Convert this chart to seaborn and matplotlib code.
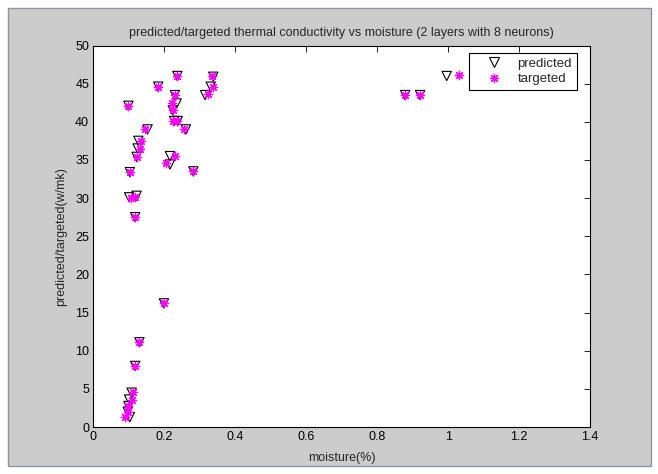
import matplotlib
matplotlib.use("Agg")
import matplotlib.pyplot as plt
import matplotlib.patches as mpatches
from matplotlib.lines import Line2D
import seaborn as sns
import pandas as pd

# moisture (%) and thermal conductivity for each sample
pred_moisture = [0.099, 0.183, 0.237, 0.338, 0.331, 0.315, 0.230, 0.235, 0.224,
                 0.228, 0.238, 0.261, 0.153, 0.127, 0.125, 0.122, 0.216, 0.216,
                 0.282, 0.103, 0.101, 0.122, 0.118, 0.199, 0.130, 0.118, 0.108,
                 0.101, 0.099, 0.097, 0.103, 0.996, 0.879, 0.921]
pred_conductivity = [42.1, 44.6, 46.0, 45.9, 44.6, 43.5, 43.5, 42.4, 41.5,
                     40.1, 40.1, 39.0, 39.0, 37.5, 36.5, 35.4, 35.5, 34.4,
                     33.5, 33.4, 30.1, 30.3, 27.5, 16.2, 11.1, 8.0, 4.5,
                     3.6, 2.75, 2.0, 1.3, 46.0, 43.5, 43.5]

targ_moisture = [0.099, 0.183, 0.237, 0.334, 0.338, 0.324, 0.230, 0.221, 0.224,
                 0.226, 0.237, 0.257, 0.146, 0.134, 0.132, 0.122, 0.230, 0.205,
                 0.282, 0.103, 0.106, 0.118, 0.118, 0.199, 0.130, 0.118, 0.111,
                 0.108, 0.099, 0.097, 0.089, 1.031, 0.879, 0.921]
targ_conductivity = [42.1, 44.6, 46.0, 46.0, 44.5, 43.6, 43.5, 42.5, 41.5,
                     40.1, 40.1, 39.0, 39.0, 37.5, 36.5, 35.4, 35.5, 34.6,
                     33.5, 33.4, 30.0, 30.2, 27.5, 16.2, 11.1, 8.0, 4.6,
                     3.6, 2.75, 2.0, 1.35, 46.1, 43.5, 43.5]

x_ticks = [0, 0.2, 0.4, 0.6, 0.8, 1, 1.2, 1.4]
x_tick_labels = ["0", "0.2", "0.4", "0.6", "0.8", "1", "1.2", "1.4"]
y_ticks = [0, 5, 10, 15, 20, 25, 30, 35, 40, 45, 50]

sns.set_theme(style="white")
plt.rcParams["font.family"] = ["Liberation Sans", "DejaVu Sans"]
plt.rcParams["font.size"] = 9

fig = plt.figure(figsize=(6.58, 4.74), dpi=100, facecolor="white")
# grey window panel behind the axes
panel = mpatches.Rectangle((8 / 658, 8 / 474), 643 / 658, 458 / 474,
                           transform=fig.transFigure, facecolor="#cccccc",
                           edgecolor="#8a94a6", linewidth=1.0, zorder=-10)
fig.patches.append(panel)

ax = fig.add_axes([93.3 / 658, 1 - 427 / 474, 496.7 / 658, 381.5 / 474])
ax.set_zorder(5)
ax.set_facecolor("white")

magenta = "#ff00ff"
asterisk = (8, 2, 0)

pred_df = pd.DataFrame({"moisture": pred_moisture, "k": pred_conductivity})
targ_df = pd.DataFrame({"moisture": targ_moisture, "k": targ_conductivity})

sns.scatterplot(data=pred_df, x="moisture", y="k", ax=ax, marker="v", s=45,
                facecolor="none", edgecolor="black", linewidth=0.8, zorder=3)
sns.scatterplot(data=targ_df, x="moisture", y="k", ax=ax, marker=asterisk, s=36,
                color=magenta, edgecolor=magenta, linewidth=0.9, zorder=4)

ax.set_xlim(0, 1.4)
ax.set_ylim(0, 50)
ax.set_xticks(x_ticks)
ax.set_xticklabels(x_tick_labels)
ax.set_yticks(y_ticks)
ax.tick_params(direction="in", length=4, width=0.6, top=True, right=True,
               labelsize=9, colors="black", pad=3)
for s in ax.spines.values():
    s.set_visible(True)
    s.set_color("black")
    s.set_linewidth(0.8)

ax.set_xlabel("moisture(%)", fontsize=9, labelpad=6)
ax.set_ylabel("predicted/targeted(w/mk)", fontsize=9, labelpad=6)
ax.set_title("predicted/targeted thermal conductivity vs moisture (2 layers with 8 neurons)",
             fontsize=9, pad=7)

handles = [
    Line2D([], [], linestyle="none", marker="v", markersize=7,
           markerfacecolor="none", markeredgecolor="black", markeredgewidth=0.8),
    Line2D([], [], linestyle="none", marker=asterisk, markersize=6.5,
           color=magenta, markeredgewidth=0.9),
]
leg = ax.legend(handles, ["predicted", "targeted"], loc="upper right",
                bbox_to_anchor=(0.973, 0.981), borderaxespad=0, fancybox=False,
                framealpha=1, edgecolor="black", fontsize=9.5,
                handletextpad=0.3, borderpad=0.35, labelspacing=0.25,
                handlelength=3.0)
leg.get_frame().set_linewidth(0.8)

fig.savefig("out.png", dpi=100, facecolor="white")
